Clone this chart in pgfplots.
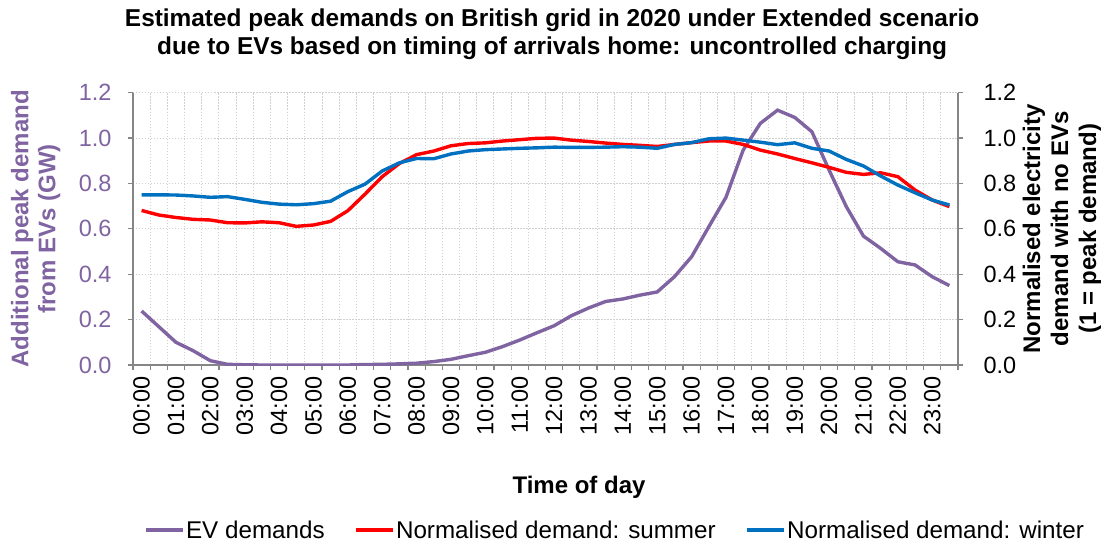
\documentclass[border=0pt]{standalone}
\usepackage{fontspec}
\setmainfont{Liberation Sans}
\usepackage{pgfplots}
\usepackage{pgfplotstable}
\pgfplotsset{compat=1.18}
\definecolor{evp}{HTML}{8064A2}
\definecolor{sred}{HTML}{FF0000}
\definecolor{wblue}{HTML}{0070C0}
\definecolor{axgray}{HTML}{868686}
\definecolor{gridg}{HTML}{D0D0D0}

\pgfplotstableread{
i ev su wi
0 0.238 0.681 0.750
1 0.169 0.661 0.750
2 0.100 0.650 0.749
3 0.063 0.642 0.745
4 0.019 0.639 0.739
5 0.003 0.627 0.742
6 0.001 0.626 0.730
7 0.000 0.631 0.717
8 0.000 0.627 0.709
9 0.000 0.611 0.706
10 0.000 0.617 0.711
11 0.000 0.633 0.722
12 0.000 0.680 0.764
13 0.002 0.753 0.797
14 0.003 0.830 0.855
15 0.005 0.888 0.891
16 0.008 0.927 0.910
17 0.015 0.943 0.909
18 0.025 0.966 0.930
19 0.041 0.976 0.943
20 0.056 0.979 0.949
21 0.081 0.987 0.952
22 0.110 0.993 0.955
23 0.142 0.999 0.957
24 0.173 1.000 0.960
25 0.217 0.991 0.959
26 0.251 0.985 0.959
27 0.280 0.978 0.960
28 0.291 0.972 0.962
29 0.308 0.968 0.960
30 0.322 0.963 0.955
31 0.389 0.972 0.972
32 0.477 0.980 0.980
33 0.609 0.987 0.997
34 0.739 0.987 1.000
35 0.947 0.972 0.991
36 1.065 0.947 0.982
37 1.123 0.930 0.971
38 1.091 0.910 0.979
39 1.028 0.891 0.955
40 0.859 0.871 0.943
41 0.698 0.849 0.906
42 0.568 0.840 0.877
43 0.514 0.847 0.833
44 0.455 0.830 0.793
45 0.441 0.771 0.759
46 0.389 0.727 0.727
47 0.350 0.698 0.705
}\data

\begin{document}
\begin{tikzpicture}
\useasboundingbox (-133pt,-179pt) rectangle (974pt,365pt);
\begin{axis}[
  scale only axis, width=825pt, height=272.3pt,
  clip mode=individual,
  xmin=-0.5, xmax=47.5, ymin=0, ymax=1.2,
  axis x line*=bottom, axis y line*=left,
  axis line style={axgray, line width=1.2pt},
  tick align=outside, major tick length=5pt,
  tick style={axgray, line width=1.2pt},
  xtick={-0.5,0.5,...,47.5}, xticklabels={},
  extra x ticks={0,2,...,46},
  extra x tick labels={00:00,01:00,02:00,03:00,04:00,05:00,06:00,07:00,08:00,09:00,10:00,11:00,12:00,13:00,14:00,15:00,16:00,17:00,18:00,19:00,20:00,21:00,22:00,23:00},
  extra x tick style={major tick length=0pt, grid=none, tick label style={yshift=-8pt, rotate=90, anchor=east}},
  xticklabel style={font=\fontsize{23.5}{27}\selectfont},
  ytick={0,0.2,0.4,0.6,0.8,1.0,1.2},
  yticklabel style={font=\fontsize{23.5}{27}\selectfont, evp, xshift=-13pt,
    /pgf/number format/.cd, fixed, fixed zerofill, precision=1, assume math mode=true},
  xmajorgrids, ymajorgrids,
  grid style={gridg, line width=1pt, dash pattern=on 1.5pt off 1.5pt},
  ylabel={Additional peak demand\\from EVs (GW)},
  ylabel style={font=\bfseries\fontsize{24}{27}\selectfont, evp, align=center, at={(axis description cs:-0.118,0.5)}, anchor=center},
  xlabel={Time of day},
  xlabel style={font=\bfseries\fontsize{24}{28}\selectfont, at={(axis description cs:0.5406,-0.4737)}, anchor=base},
  legend columns=3,
  legend style={draw=none, fill=none, at={(axis description cs:0.0097,-0.606)}, anchor=west,
    font=\fontsize{24.2}{28}\selectfont, nodes={inner sep=1.5pt},
    /tikz/every even column/.append style={column sep=28pt}},
  legend image code/.code={\draw[#1] (0pt,0pt) -- (37pt,0pt);},
  legend cell align=left,
]
\addplot[evp, line width=3.4pt] table[x=i, y=ev] {\data};
\addlegendentry{EV demands}
\addplot[sred, line width=3.4pt] table[x=i, y=su] {\data};
\addlegendentry{Normalised demand: summer}
\addplot[wblue, line width=3.4pt] table[x=i, y=wi] {\data};
\addlegendentry{Normalised demand: winter}
\node[font=\bfseries\fontsize{24.4}{27}\selectfont, anchor=base] at (axis description cs:0.508,1.2413) {Estimated peak demands on British grid in 2020 under Extended scenario};
\node[font=\bfseries\fontsize{24.4}{27}\selectfont, anchor=base] at (axis description cs:0.508,1.1421) {due to EVs based on timing of arrivals home: uncontrolled charging};
\end{axis}
\begin{axis}[
  scale only axis, width=825pt, height=272.3pt,
  xmin=-0.5, xmax=47.5, ymin=0, ymax=1.2,
  axis x line=none, axis y line*=right,
  axis line style={axgray, line width=1.2pt},
  tick align=outside, major tick length=5pt,
  tick style={axgray, line width=1.2pt},
  ytick={0,0.2,0.4,0.6,0.8,1.0,1.2},
  yticklabel style={font=\fontsize{23.5}{27}\selectfont, black, xshift=17pt,
    /pgf/number format/.cd, fixed, fixed zerofill, precision=1, assume math mode=true},
  ylabel={Normalised electricity\\demand with no EVs\\(1 = peak demand)},
  ylabel style={font=\bfseries\fontsize{24}{28}\selectfont, align=center, at={(axis description cs:1.126,0.5)}, anchor=center},
]
\addplot[draw=none] coordinates {(0,0)};
\end{axis}
\end{tikzpicture}
\end{document}
